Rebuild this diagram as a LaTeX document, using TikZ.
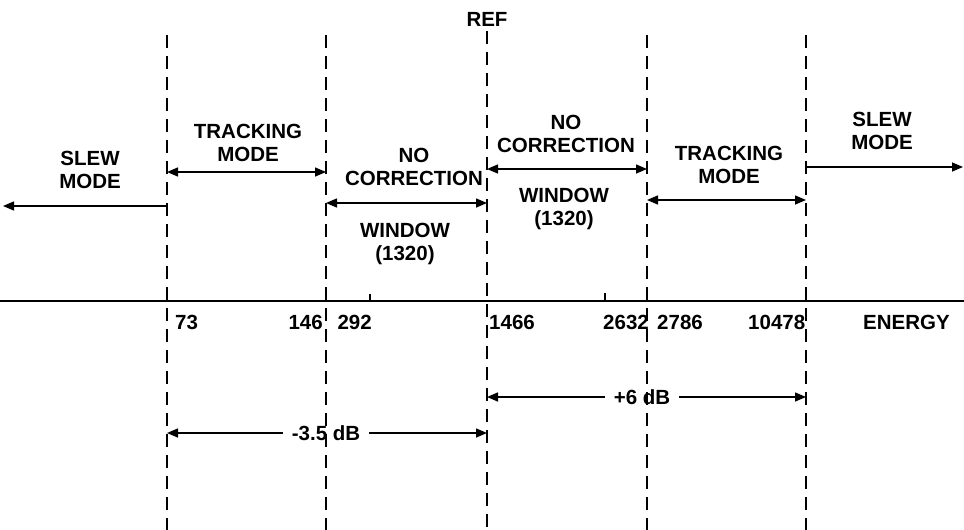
\documentclass[tikz,border=0pt]{standalone}
\usepackage{fontspec}
\setmainfont{Liberation Sans}
\usetikzlibrary{arrows.meta}
\begin{document}
\begin{tikzpicture}[x=1pt,y=-1pt,
  lbl/.style={font=\fontsize{20.5}{23.5}\selectfont\bfseries, align=center, inner sep=0pt},
  vline/.style={line width=1.1pt, dash pattern=on 13pt off 8pt},
  dim/.style={line width=1.5pt, {Triangle[length=11pt,width=9pt]}-{Triangle[length=11pt,width=9pt]}},
  oneway/.style={line width=1.5pt, -{Triangle[length=11pt,width=9pt]}},
  gap/.style={lbl, fill=white, inner xsep=9pt, inner ysep=2pt}]
\useasboundingbox (0,0) rectangle (964,530);

% vertical boundary coordinates
\coordinate (v1t) at (167,35);  \coordinate (v1b) at (167,530);
\coordinate (v2t) at (326,35);  \coordinate (v2b) at (326,530);
\coordinate (v3t) at (487,31);  \coordinate (v3b) at (487,530);
\coordinate (v4t) at (647,35);  \coordinate (v4b) at (647,530);
\coordinate (v5t) at (806,35);  \coordinate (v5b) at (806,530);

% region labels
\node[lbl] (ref) at (487,19) {REF};
\node[lbl] (slewL) at (90,170) {SLEW\\MODE};
\node[lbl] (trkL) at (248,143) {TRACKING\\MODE};
\node[lbl] (ncL) at (414,167) {NO\\CORRECTION};
\node[lbl] (winL) at (405,244) {WINDOW\\(1320)};
\node[lbl] (ncR) at (566,134) {NO\\CORRECTION};
\node[lbl] (winR) at (564,209) {WINDOW\\(1320)};
\node[lbl] (trkR) at (729,165) {TRACKING\\MODE};
\node[lbl] (slewR) at (882,131) {SLEW\\MODE};

% region arrows
\coordinate (slA) at (167,206); \coordinate (slB) at (3,206);
\draw[oneway] (slA) -- (slB);
\coordinate (tlA) at (167,172); \coordinate (tlB) at (326,172);
\draw[dim] (tlA) -- (tlB);
\coordinate (nlA) at (326,203); \coordinate (nlB) at (487,203);
\draw[dim] (nlA) -- (nlB);
\coordinate (nrA) at (487,169); \coordinate (nrB) at (647,169);
\draw[dim] (nrA) -- (nrB);
\coordinate (trA) at (647,200); \coordinate (trB) at (806,200);
\draw[dim] (trA) -- (trB);
\coordinate (srA) at (806,167); \coordinate (srB) at (963,167);
\draw[oneway] (srA) -- (srB);

% energy axis
\coordinate (ax0) at (0,301); \coordinate (ax1) at (964,301);
\draw[line width=2pt] (ax0) -- (ax1);
\coordinate (t1a) at (370,294); \coordinate (t1b) at (370,301);
\draw[line width=1.2pt] (t1a) -- (t1b);
\coordinate (t2a) at (605,293); \coordinate (t2b) at (605,301);
\draw[line width=1.2pt] (t2a) -- (t2b);

% axis labels
\node[lbl, anchor=west] (n73) at (175,322) {73};
\node[lbl, anchor=east] (n146) at (323,322) {146};
\node[lbl, anchor=east] (n292) at (372,322) {292};
\node[lbl, anchor=west] (n1466) at (489,322) {1466};
\node[lbl, anchor=west] (n2632) at (603,322) {2632};
\node[lbl, anchor=west] (n2786) at (657,322) {2786};
\node[lbl, anchor=west] (n10478) at (748,322) {10478};
\node[lbl, anchor=west] (energy) at (863,322) {ENERGY};

% dB spans
\coordinate (dbA) at (487,397); \coordinate (dbB) at (806,397);
\draw[dim] (dbA) -- (dbB);
\node[gap] (db6) at (642,397) {+6 dB};
\coordinate (dcA) at (167,433); \coordinate (dcB) at (487,433);
\draw[dim] (dcA) -- (dcB);
\node[gap] (db35) at (326,433) {-3.5 dB};

% dashed boundaries
\foreach \i in {1,...,5} \draw[vline] (v\i t) -- (v\i b);
\end{tikzpicture}
\end{document}
